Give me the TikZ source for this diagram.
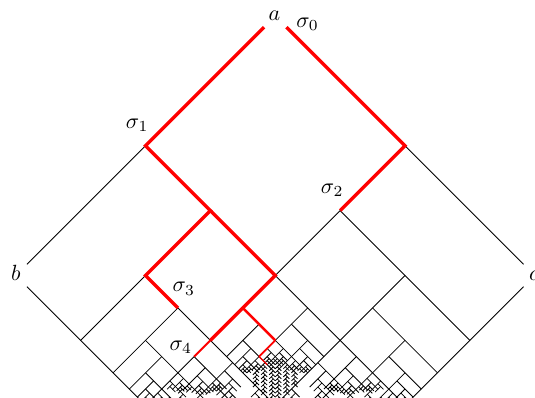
\documentclass[tikz,border=0pt]{standalone}
\usepackage{graphicx}

% ---------------------------------------------------------------
% Self-similar segment pattern inside the square a-b-d-c.
% Integer coordinates (u,v) in [0,16384]^2, one unit = 1038sp.
% A segment is cut into stretches by the perpendicular segments that
% cross it; from the midpoint of every stretch a perpendicular segment
% of the same length grows to the larger side.
% The set is found by repeating this until it no longer changes.
% Segments are kept in buckets of 512 units for quick look-up.
% ---------------------------------------------------------------
\def\frN{16384}
\def\frMin{256}     % shortest stretch that still sprouts
\def\frVis{25500}   % u+v beyond this lies well below the picture
\def\frMaxIt{70}
\def\frEmpty{}
\def\frStop{\frStop}
\newcount\frCnt \newcount\frSum \newcount\frCntOld \newcount\frSumOld
\newcount\frIt \newcount\frTmpA \newcount\frTmpB \newcount\frTmpC
\newif\iffrIns \newif\iffrGoon

\def\frBkt#1{\the\numexpr(2*(#1)-511)/1024\relax}

\def\frRange#1#2#3{\ifnum#1>#2\relax\expandafter\frGobbleThree\else\expandafter\frRangeDo\fi{#1}{#2}{#3}}
\def\frGobbleThree#1#2#3{}
\def\frRangeDo#1#2#3{#3{#1}\expandafter\frRange\expandafter{\the\numexpr#1+1}{#2}{#3}}

\def\frEachItem#1#2{\expandafter\frEachItemLoop\expandafter#2#1\frStop:0:0;}
\def\frEachItemLoop#1#2:#3:#4;{%
  \ifx\frStop#2\else
    #1{#2}{#3}{#4}%
    \expandafter\frEachItemLoop\expandafter#1%
  \fi}

% sorted insertion into \frBP (list "n,n,...,")
\def\frInsert#1{%
  \edef\frIV{\number#1}%
  \def\frNewL{}\frInsfalse
  \expandafter\frInsLoop\frBP\frStop,%
  \iffrIns\else\edef\frNewL{\frNewL\frIV,}\fi
  \let\frBP\frNewL}
\def\frInsLoop#1,{%
  \ifx\frStop#1\else
    \iffrIns
      \edef\frNewL{\frNewL#1,}%
    \else
      \ifnum#1<\frIV\relax
        \edef\frNewL{\frNewL#1,}%
      \else
        \ifnum#1>\frIV\relax\edef\frNewL{\frNewL\frIV,}\fi
        \edef\frNewL{\frNewL#1,}\frInstrue
      \fi
    \fi
    \expandafter\frInsLoop
  \fi}

% store a segment of family #1 at coordinate #2 from #3 to #4 (new set)
\def\frAddLine#1#2#3#4{%
  \edef\frAK{\frBkt{#2}}%
  \expandafter\edef\csname L@#1@\frNP @\frAK\endcsname{\csname L@#1@\frNP @\frAK\endcsname#2:#3:#4;}%
  \edef\frAItem{#2:#3:#4;}\edef\frAF{#1}%
  \frRange{\frBkt{#3}}{\frBkt{#4}}\frAddQ
  \advance\frCnt by 1
  \advance\frSum by \numexpr#2+2*#3+3*#4\relax}
\def\frAddQ#1{%
  \expandafter\edef\csname Q@\frAF @\frNP @\frAK @\the\numexpr#1\relax\endcsname
    {\csname Q@\frAF @\frNP @\frAK @\the\numexpr#1\relax\endcsname\frAItem}}

\def\frClear#1{\edef\frCP{#1}\frRange{0}{32}\frClearI}
\def\frClearI#1{%
  \expandafter\let\csname L@U@\frCP @#1\endcsname\frEmpty
  \expandafter\let\csname L@V@\frCP @#1\endcsname\frEmpty
  \edef\frCI{#1}\frRange{0}{32}\frClearJ}
\def\frClearJ#1{%
  \expandafter\let\csname Q@U@\frCP @\frCI @#1\endcsname\frEmpty
  \expandafter\let\csname Q@V@\frCP @\frCI @#1\endcsname\frEmpty}

\def\frSpawnAll#1#2{\def\frSF{#1}\edef\frSC{#2}\let\frPrevBP\relax
  \expandafter\frSpawnLoop\frBP\frStop,}
\def\frSpawnLoop#1,{%
  \ifx\frStop#1\else
    \ifx\frPrevBP\relax\else\frSpawnOne{\frPrevBP}{#1}\fi
    \def\frPrevBP{#1}%
    \expandafter\frSpawnLoop
  \fi}
\def\frSpawnOne#1#2{%
  \frTmpA=\numexpr#2-#1\relax
  \ifnum\frTmpA<\frMin\relax\else
    \ifodd\frTmpA\else
      \frTmpB=\numexpr(#1+#2)/2\relax
      \ifnum\numexpr\frTmpB+\frSC\relax>\frVis\relax\else
        \frTmpC=\numexpr\frSC+\frTmpA\relax
        \ifnum\frTmpC>\frN\relax\frTmpC=\frN\relax\fi
        \edef\frNewLine{\noexpand\frAddLine{\frSF}{\the\frTmpB}{\frSC}{\the\frTmpC}}%
        \frNewLine
      \fi
    \fi
  \fi}

% a perpendicular segment counts only where it passes right through
\def\frTest#1#2#3{%
  \ifnum#1<\frQs\relax\else\ifnum#1>\frQe\relax\else
  \ifnum#2<\frQc\relax\ifnum#3>\frQc\relax\frInsert{#1}\fi\fi\fi\fi}
\def\frQueryV#1{\expandafter\frEachItem\csname Q@V@\frP @\the\numexpr#1\relax @\frQj\endcsname\frTest}
\def\frQueryU#1{\expandafter\frEachItem\csname Q@U@\frP @\the\numexpr#1\relax @\frQj\endcsname\frTest}
\def\frProcU#1#2#3{%
  \def\frBP{#2,}\frInsert{#3}%
  \def\frQc{#1}\def\frQs{#2}\def\frQe{#3}%
  \edef\frQj{\frBkt{#1}}%
  \frRange{\frBkt{#2}}{\frBkt{#3}}\frQueryV
  \frSpawnAll{V}{#1}}
\def\frProcV#1#2#3{%
  \def\frBP{#2,}\frInsert{#3}%
  \def\frQc{#1}\def\frQs{#2}\def\frQe{#3}%
  \edef\frQj{\frBkt{#1}}%
  \frRange{\frBkt{#2}}{\frBkt{#3}}\frQueryU
  \frSpawnAll{U}{#1}}
\def\frProcBucketU#1{\expandafter\frEachItem\csname L@U@\frP @#1\endcsname\frProcU}
\def\frProcBucketV#1{\expandafter\frEachItem\csname L@V@\frP @#1\endcsname\frProcV}

\def\frStep{%
  \edef\frNP{\the\numexpr1-\frP\relax}%
  \frClear{\frNP}%
  \frCnt=0 \frSum=0
  \frAddLine{U}{0}{0}{16384}%
  \frAddLine{V}{0}{0}{16384}%
  \frRange{0}{32}\frProcBucketU
  \frRange{0}{32}\frProcBucketV
  \let\frP\frNP}
\def\frRun{%
  \def\frP{0}\def\frNP{0}%
  \frClear{0}\frClear{1}%
  \frAddLine{U}{0}{0}{16384}\frAddLine{V}{0}{0}{16384}%
  \frIt=0 \frCntOld=-1 \frSumOld=-1
  \frRunLoop}
\def\frRunLoop{%
  \frStep
  \advance\frIt by 1
  \frGoontrue
  \ifnum\frCnt=\frCntOld\relax\ifnum\frSum=\frSumOld\relax\frGoonfalse\fi\fi
  \ifnum\frIt<\frMaxIt\relax\else\frGoonfalse\fi
  \frCntOld=\frCnt \frSumOld=\frSum
  \iffrGoon\expandafter\frRunLoop\fi}

% drawing in picture points (y upwards)
\def\frSeg#1#2#3#4{%
  \pgfpathmoveto{\pgfqpoint{\dimexpr275.25pt+1038sp*\numexpr#1-#2\relax\relax}%
                           {\dimexpr-16pt-1038sp*\numexpr#1+#2\relax\relax}}%
  \pgfpathlineto{\pgfqpoint{\dimexpr275.25pt+1038sp*\numexpr#3-#4\relax\relax}%
                           {\dimexpr-16pt-1038sp*\numexpr#3+#4\relax\relax}}%
  \pgfusepath{stroke}}
\def\frDrawU#1#2#3{\ifnum#1=0 \else\frSeg{#1}{#2}{#1}{#3}\fi}
\def\frDrawV#1#2#3{\ifnum#1=0 \else\frSeg{#2}{#1}{#3}{#1}\fi}
\def\frDrawBucket#1{%
  \expandafter\frEachItem\csname L@U@\frP @#1\endcsname\frDrawU
  \expandafter\frEachItem\csname L@V@\frP @#1\endcsname\frDrawV}
\def\frDrawAll{\frRange{0}{32}\frDrawBucket}

\newcommand\biglabel[1]{\scalebox{2.2}{$#1$}}

\begin{document}
\begin{tikzpicture}[x=1pt,y=1pt,
  lab/.style={inner sep=0pt},
  thinline/.style={line width=0.8pt, black},
  redthick/.style={red, line width=3.4pt},
  redmid/.style={red, line width=2.6pt},
  redthin/.style={red, line width=1.9pt},
  redfine/.style={red, line width=1.3pt}]
\useasboundingbox (0,0) rectangle (535,-398);
\frRun

% corner points of the construction, in (u,v) square coordinates
\begin{scope}[shift={(275.25,-16)}, x={(259.5pt,-259.5pt)}, y={(-259.5pt,-259.5pt)}]
  \coordinate (aL) at (0,0.043);
  \coordinate (aR) at (0.043,0);
  \coordinate (s1) at (0,0.5);
  \coordinate (bU) at (0,0.957);
  \coordinate (bD) at (0.043,1);
  \coordinate (dd) at (1,1);
  \coordinate (cU) at (0.957,0);
  \coordinate (cD) at (1,0.043);
  \coordinate (rc) at (0.5,0);
  \coordinate (s2) at (0.5,0.25);
  \coordinate (mc) at (0.5,0.5);
  \coordinate (q1) at (0.25,0.5);
  \coordinate (q2) at (0.25,0.75);
  \coordinate (s3) at (0.375,0.75);
  \coordinate (p1) at (0.5,0.625);
  \coordinate (p2) at (0.5,0.75);
  \coordinate (s4) at (0.5,0.8125);
  \coordinate (p3) at (0.625,0.625);
  \coordinate (p4) at (0.625,0.6875);
  \coordinate (p5) at (0.65625,0.6875);
\end{scope}

\begin{scope}
  \clip (0,0) rectangle (535,-398);
  \pgfsetlinewidth{0.8pt}
  \pgfsetstrokecolor{black}
  \frDrawAll
  % outer sides
  \draw[thinline] (s1) -- (bU);
  \draw[thinline] (rc) -- (cU);
  \draw[thinline] (bD) -- (dd);
  \draw[thinline] (cD) -- (dd);
  % highlighted paths
  \draw[redthick] (aL) -- (s1) -- (q1) -- (q2) -- (s3);
  \draw[redthick] (aR) -- (rc) -- (s2);
  \draw[redthick] (q1) -- (mc) -- (p2);
  \draw[redthin] (p2) -- (s4);
  \draw[redmid] (p1) -- (p3);
  \draw[redthin] (p3) -- (p4);
  \draw[redfine] (p4) -- (p5);
\end{scope}

\node[lab] (la) at (274.5,-15.5) {\biglabel{a}};
\node[lab] (lb) at (15.8,-272.5) {\biglabel{b}};
\node[lab] (lc) at (534,-276) {\biglabel{c}};
\node[lab] (l0) at (307.5,-24) {\biglabel{\sigma_0}};
\node[lab] (l1) at (137.2,-125.5) {\biglabel{\sigma_1}};
\node[lab] (l2) at (332.2,-190) {\biglabel{\sigma_2}};
\node[lab] (l3) at (183.8,-288.7) {\biglabel{\sigma_3}};
\node[lab] (l4) at (180.8,-347) {\biglabel{\sigma_4}};
\end{tikzpicture}
\end{document}
